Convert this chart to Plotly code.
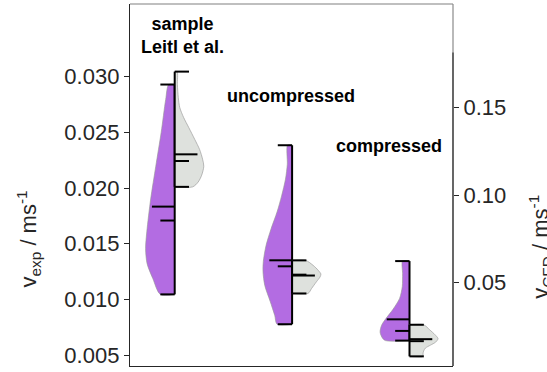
import plotly.graph_objects as go

# ---- data -------------------------------------------------------------
group_labels = ["sample<br>Leitl et al.", "uncompressed", "compressed"]
group_pos = [1, 2, 3]

# density profiles (velocity level, relative density) of each half violin
exp_sample_v = [0.02929, 0.02795, 0.02500, 0.02196, 0.01902, 0.01607, 0.01455, 0.01321, 0.01188, 0.01045]
exp_sample_d = [0.20, 0.30, 0.45, 0.63, 0.80, 0.93, 0.97, 0.92, 0.73, 0.48]
cfd_sample_v = [0.1706, 0.1631, 0.1557, 0.1500, 0.1443, 0.1386, 0.1318, 0.1261, 0.1205, 0.1165, 0.1114, 0.1074, 0.1047]
cfd_sample_d = [0.08, 0.09, 0.12, 0.17, 0.30, 0.47, 0.67, 0.83, 0.93, 0.97, 0.90, 0.78, 0.60]

exp_uncomp_v = [0.02384, 0.02214, 0.02080, 0.01929, 0.01786, 0.01634, 0.01482, 0.01339, 0.01250, 0.01125, 0.00982, 0.00857, 0.00777]
exp_uncomp_d = [0.15, 0.16, 0.22, 0.35, 0.50, 0.70, 0.87, 0.96, 0.97, 0.91, 0.73, 0.58, 0.50]
cfd_uncomp_v = [0.06267, 0.05983, 0.05699, 0.05483, 0.05313, 0.05040, 0.04659, 0.04375]
cfd_uncomp_d = [0.45, 0.70, 0.87, 0.96, 0.93, 0.81, 0.65, 0.53]

exp_comp_v = [0.01344, 0.01232, 0.01116, 0.01009, 0.00911, 0.00830, 0.00768, 0.00705, 0.00652, 0.00630]
exp_comp_d = [0.23, 0.23, 0.24, 0.33, 0.55, 0.78, 0.93, 0.98, 0.90, 0.80]
cfd_comp_v = [0.02585, 0.02301, 0.02017, 0.01790, 0.01591, 0.01421, 0.01250, 0.01080, 0.00909, 0.00778]
cfd_comp_d = [0.47, 0.67, 0.85, 0.95, 0.87, 0.70, 0.53, 0.47, 0.45, 0.45]

# summary statistics per group
exp_max = [0.02929, 0.02384, 0.01344]
exp_min = [0.01045, 0.00777, 0.00630]
exp_mean = [0.01833, 0.01351, 0.00821]
exp_median = [0.01708, 0.01297, 0.00717]
cfd_max = [0.1706, 0.06267, 0.02585]
cfd_min = [0.1047, 0.04375, 0.00778]
cfd_mean = [0.1233, 0.0540, 0.01761]
cfd_median = [0.1195, 0.0545, 0.01648]

exp_ticks = [0.005, 0.010, 0.015, 0.020, 0.025, 0.030]
cfd_ticks = [0.05, 0.10, 0.15]

# ---- styling ----------------------------------------------------------
PURPLE = "#B36CE2"
GREY = "#DEE1DD"
EDGE = "rgba(150,150,150,0.8)"
INK = "#262626"
HALF_W = 0.2555      # half width of a violin at relative density 1
CAP = 0.122          # length of min/max caps and median marks
LONG = 0.194         # length of mean marks
FONT = "Liberation Sans, Arial, Helvetica, sans-serif"

exp_profiles = [(exp_sample_v, exp_sample_d), (exp_uncomp_v, exp_uncomp_d), (exp_comp_v, exp_comp_d)]
cfd_profiles = [(cfd_sample_v, cfd_sample_d), (cfd_uncomp_v, cfd_uncomp_d), (cfd_comp_v, cfd_comp_d)]

fig = go.Figure()


def half_violin(c, levels, dens, side, color, yaxis):
    xs = [c] + [c + side * d * HALF_W for d in dens] + [c]
    ys = [levels[0]] + list(levels) + [levels[-1]]
    fig.add_trace(go.Scatter(
        x=xs, y=ys, mode="lines", fill="toself", fillcolor=color,
        line=dict(color=EDGE, width=0.8, shape="spline", smoothing=0.8),
        yaxis=yaxis, hoverinfo="skip", showlegend=False))


for c, (lv, dn) in zip(group_pos, exp_profiles):
    half_violin(c, lv, dn, -1, PURPLE, "y")
for c, (lv, dn) in zip(group_pos, cfd_profiles):
    half_violin(c, lv, dn, +1, GREY, "y2")


def marks(side, vmax, vmin, vmean, vmed, yaxis):
    xs, ys = [], []
    for c, a, b, m, md in zip(group_pos, vmax, vmin, vmean, vmed):
        xs += [c, c, None]
        ys += [a, b, None]
        for v, L in ((a, CAP), (b, CAP), (m, LONG), (md, CAP)):
            xs += [c, c + side * L, None]
            ys += [v, v, None]
    fig.add_trace(go.Scatter(x=xs, y=ys, mode="lines",
                             line=dict(color="black", width=2),
                             yaxis=yaxis, hoverinfo="skip", showlegend=False))


marks(-1, exp_max, exp_min, exp_mean, exp_median, "y")
marks(+1, cfd_max, cfd_min, cfd_mean, cfd_median, "y2")

# group labels
label_xy = [(0.161, 0.912), (0.4985, 0.747), (0.8034, 0.607)]
for txt, (lx, ly) in zip(group_labels, label_xy):
    fig.add_annotation(x=lx, y=ly, xref="paper", yref="paper", text=f"<b>{txt}</b>",
                       showarrow=False, font=dict(family=FONT, size=18, color="black"),
                       xanchor="center", yanchor="middle", align="center")

# axis titles
fig.add_annotation(x=-0.315, y=0.35, xref="paper", yref="paper",
                   text="v<sub>exp</sub> / ms<sup>-1</sup>", textangle=-90, showarrow=False,
                   font=dict(family=FONT, size=22, color=INK), xanchor="center", yanchor="middle")
fig.add_annotation(x=1.27, y=0.33, xref="paper", yref="paper",
                   text="v<sub>CFD</sub> / ms<sup>-1</sup>", textangle=-90, showarrow=False,
                   font=dict(family=FONT, size=22, color=INK), xanchor="center", yanchor="middle")

# frame
fig.add_shape(type="line", xref="paper", yref="paper", x0=0, x1=1, y0=1, y1=1,
              line=dict(color="#808080", width=1.2))
fig.add_shape(type="line", xref="paper", yref="paper", x0=1, x1=1, y0=0.865, y1=1,
              line=dict(color="#8a8a8a", width=1.2))
fig.add_shape(type="line", xref="paper", yref="paper", x0=1, x1=1, y0=0, y1=0.866,
              line=dict(color=INK, width=1.4))

fig.update_layout(
    width=547, height=372,
    margin=dict(l=130, r=94, t=4, b=4),
    paper_bgcolor="white", plot_bgcolor="white",
    font=dict(family=FONT, color=INK),
    xaxis=dict(range=[0.6193, 3.3705], showticklabels=False, ticks="", showgrid=False,
               zeroline=False, showline=True, linecolor=INK, linewidth=1.4, mirror=False),
    yaxis=dict(range=[0.00402, 0.03652], tickvals=exp_ticks, tickformat=".3f",
               ticks="outside", ticklen=5, tickcolor=INK, tickwidth=1,
               tickfont=dict(family=FONT, size=22, color=INK),
               showgrid=False, zeroline=False, showline=True, linecolor=INK, linewidth=1.4),
    yaxis2=dict(range=[0.00227, 0.20926], tickvals=cfd_ticks, tickformat=".2f",
                overlaying="y", side="right",
                ticks="outside", ticklen=5, tickcolor=INK, tickwidth=1,
                tickfont=dict(family=FONT, size=22, color=INK),
                showgrid=False, zeroline=False, showline=False),
)

fig.write_html("out.html")
